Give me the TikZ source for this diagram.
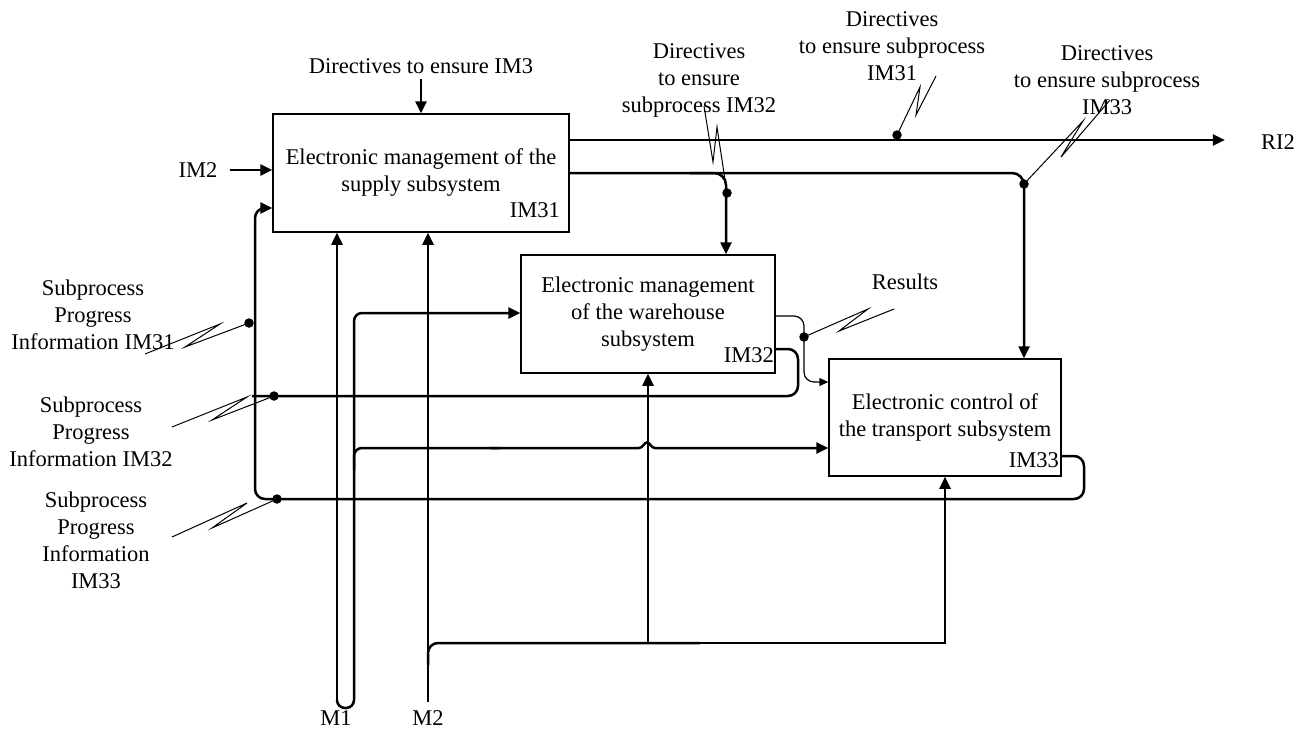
\documentclass[tikz,border=0pt]{standalone}
\usepackage{fontspec}
\setmainfont{Liberation Serif}
\usetikzlibrary{arrows.meta,calc}
\begin{document}
\begin{tikzpicture}[x=1pt,y=-1pt,
  every node/.style={font=\fontsize{22.5}{27}\selectfont, inner sep=0pt, align=center},
  box/.style={draw, line width=1.5pt, fill=white},
  heavy/.style={line width=2.5pt},
  lead/.style={line width=1pt},
  tip/.style={-{Triangle[length=12pt,width=11pt]}},
  smalltip/.style={-{Triangle[length=9pt,width=8pt]}},
  dot/.style={circle, fill=black, minimum size=9.5pt, inner sep=0pt}]
\useasboundingbox (0,0) rectangle (1311,729);

% level coordinates
\coordinate (y140) at (0,140);
\coordinate (y173) at (0,173);
\coordinate (y208) at (0,208);
\coordinate (y313) at (0,313);
\coordinate (y316) at (0,316);
\coordinate (y349) at (0,349);
\coordinate (y382) at (0,382);
\coordinate (y448) at (0,448);
\coordinate (y456) at (0,456);
\coordinate (y643) at (0,643);
\coordinate (x726) at (726,0);
\coordinate (x1024) at (1024,0);

% boxes
\node[box, minimum width=296pt, minimum height=118pt] (b1) at (421,173) {Electronic management of the\\supply subsystem};
\node[box, minimum width=254pt, minimum height=118pt] (b2) at (648,314) {Electronic management\\of the warehouse\\subsystem};
\node[box, minimum width=232pt, minimum height=117pt] (b3) at (945,417.5) {Electronic control of\\the transport subsystem};
\node[anchor=east] (l1) at (560,210) {IM31};
\node[anchor=east] (l2) at (774,355) {IM32};
\node[anchor=east] (l3) at (1059,460) {IM33};

% labels
\node (dir3) at (421,66) {Directives to ensure IM3};
\node (im2) at (198,170) {IM2};
\node (ri2) at (1278,142) {RI2};
\node (m1l) at (336,718) {M1};
\node (m2l) at (428,718) {M2};
\node (d32) at (699,80) {Directives\\to ensure\\subprocess IM32};
\node (d31) at (892,46) {Directives\\to ensure subprocess\\IM31};
\node (d33) at (1107,80) {Directives\\to ensure subprocess\\IM33};
\node (res) at (905,282) {Results};
\node (s31) at (93,315) {Subprocess\\Progress\\Information IM31};
\node (s32) at (91,432) {Subprocess\\Progress\\Information IM32};
\node (s33) at (96,540) {Subprocess\\Progress\\Information\\IM33};

\coordinate (m1) at (337,702);
\coordinate (m2) at (428,702);

% control and input arrows
\draw[heavy,tip] (dir3.south |- 0,79) -- (b1.north);
\draw[heavy,tip] ([xshift=12pt]im2.east) -- (b1.west |- im2);

% box1 outputs
\draw[heavy,tip] (b1.east |- y140) -- ($(ri2.west)+(-36,-2)$);
\draw[heavy,tip,rounded corners=12pt] (b1.east |- y173) -- (x1024 |- y173) -- (b3.north -| x1024);
\draw[heavy,tip,rounded corners=12pt] (690,173) -- (x726 |- y173) -- (b2.north -| x726);

% mechanisms
\draw[heavy,tip] (m1) -- (m1 |- b1.south);
\draw[heavy,tip] (m2) -- (m2 |- b1.south);
\draw[heavy,tip,rounded corners=8pt] (m1) -- (337,708) -- (354,708) -- (354,313) -- (b2.west |- y313);
\draw[heavy,rounded corners=8pt] (354,470) -- (354,448) -- (500,448);
\draw[heavy,tip] (490,448) -- (639,448)
  .. controls (643,448) and (644,442.5) .. (647,442.5)
  .. controls (650,442.5) and (651,448) .. (655,448) -- (b3.west |- y448);
\draw[heavy,rounded corners=10pt] (428,665) -- (428,643) -- (700,643);
\draw[heavy,tip] (690,643) -- (b3.south |- y643) -- (b3.south);
\draw[heavy,tip] (b2.south |- y643) -- (b2.south);

% results
\draw[line width=1.2pt,smalltip,rounded corners=10pt] (b2.east |- y316) -- (804,316) -- (804,382) -- (b3.west |- y382);

% feedbacks
\draw[heavy,rounded corners=10pt] (b2.east |- y349) -- (798,349) -- (798,396) -- (252,396);
\draw[heavy,tip,rounded corners=10pt] (b3.east |- y456) -- (1084,456) -- (1084,499) -- (255,499) -- (255,208) -- (b1.west |- y208);

% dots
\node[dot] (p31) at (249,323) {};
\node[dot] (p32) at (274,396) {};
\node[dot] (p33) at (277,499) {};
\node[dot] (pt31) at (897,135) {};
\node[dot] (pt32) at (727,193) {};
\node[dot] (pt33) at (1024,184) {};
\node[dot] (pres) at (804,337) {};

% leaders
\draw[lead] (145,354) -- (220,324) -- (185,347) -- (p31.center);
\draw[lead] (172,427) -- (247,397) -- (212,420) -- (p32.center);
\draw[lead] (172,537) -- (247,503) -- (212,528) -- (p33.center);
\draw[lead] (936,76) -- (916,115) -- (920,87) -- (pt31.center);
\draw[lead] (704,106) -- (713,162) -- (717,127) -- (pt32.center);
\draw[lead] (1110,100) -- (1061,157) -- (1083,121) -- (pt33.center);
\draw[lead] (894,309) -- (839,331) -- (868,309) -- (pres.center);
\end{tikzpicture}
\end{document}
